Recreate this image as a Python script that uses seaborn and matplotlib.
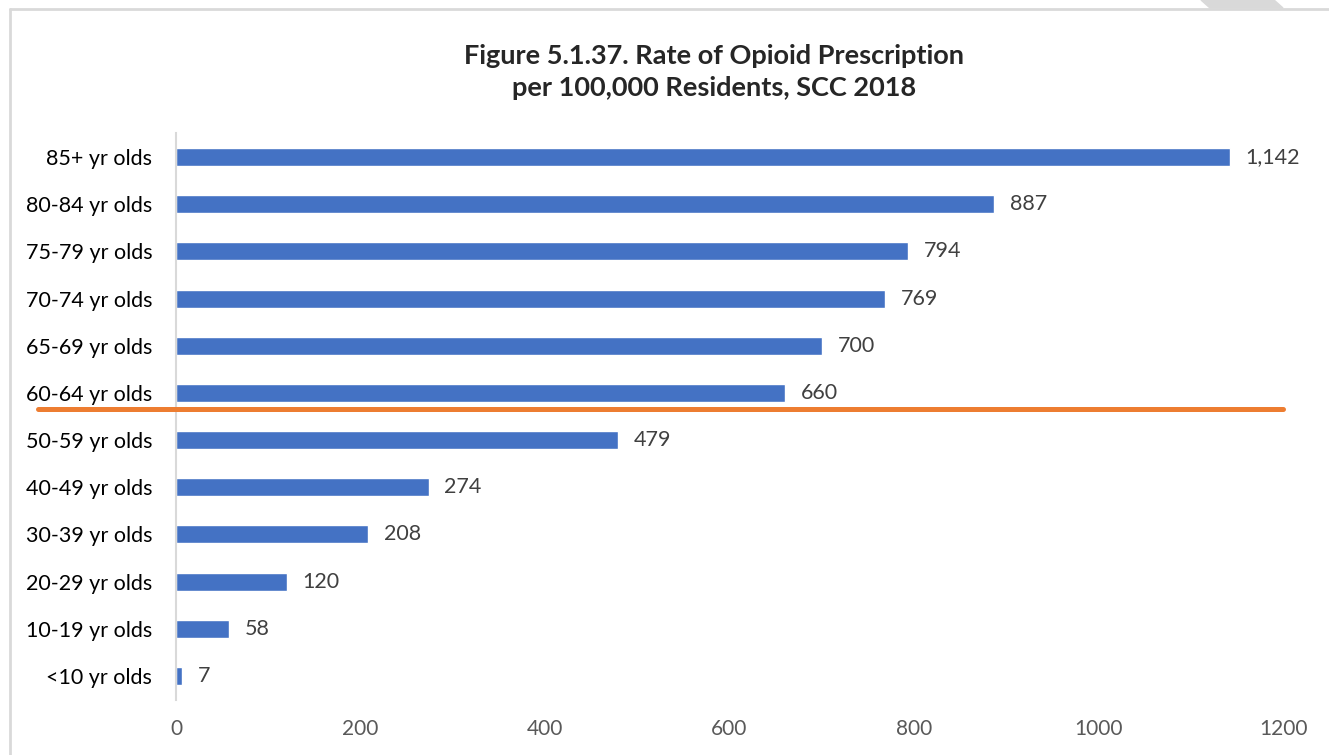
import matplotlib
matplotlib.use("Agg")
import matplotlib.pyplot as plt
import seaborn as sns
import pandas as pd
from matplotlib.lines import Line2D
from matplotlib.patches import Polygon

# Data
age_groups = ["85+ yr olds", "80-84 yr olds", "75-79 yr olds", "70-74 yr olds",
              "65-69 yr olds", "60-64 yr olds", "50-59 yr olds", "40-49 yr olds",
              "30-39 yr olds", "20-29 yr olds", "10-19 yr olds", "<10 yr olds"]
rates = [1142, 887, 794, 769, 700, 660, 479, 274, 208, 120, 58, 7]
x_ticks = [0, 200, 400, 600, 800, 1000, 1200]

df = pd.DataFrame({"group": age_groups, "rate": rates})

sns.set_style("white")
plt.rcParams["font.family"] = ["Lato", "DejaVu Sans"]

fig = plt.figure(figsize=(13.29, 7.55), dpi=100)
ax = fig.add_axes([0.1324, 0.0734, 0.8330, 0.7499])

sns.barplot(data=df, x="rate", y="group", color="#4472C4", width=0.38,
            saturation=1, ax=ax)

# value labels
for i, v in enumerate(rates):
    ax.text(v + 17, i, f"{v:,}", va="center", ha="left", fontsize=15.5, color="#404040")

ax.set_xlim(0, 1200)
ax.set_ylim(11.5, -0.5)
ax.set_xticks(x_ticks)
ax.set_xticklabels([str(t) for t in x_ticks], fontsize=15, color="#595959")
ax.tick_params(axis="x", length=0, pad=14)
ax.tick_params(axis="y", length=0, pad=17, labelsize=15.5, labelcolor="#000000")
ax.set_xlabel("")
ax.set_ylabel("")
for s in ["top", "right", "bottom"]:
    ax.spines[s].set_visible(False)
ax.spines["left"].set_color("#D9D9D9")
ax.spines["left"].set_linewidth(1.5)

fig.text(0.537, 0.904, "Figure 5.1.37. Rate of Opioid Prescription\nper 100,000 Residents, SCC 2018",
         ha="center", va="center", fontsize=19.5, fontweight="bold", linespacing=1.4)

# orange separator line between 60-64 and 50-59
fig.add_artist(Line2D([38 / 1329, 1283 / 1329], [1 - 409 / 755, 1 - 409 / 755],
                      color="#ED7D31", linewidth=3.6, transform=fig.transFigure))

# chart frame (top and left edges visible)
fig.add_artist(Line2D([9.5 / 1329, 1], [1 - 9 / 755, 1 - 9 / 755],
                      color="#D9D9D9", linewidth=2, transform=fig.transFigure))
fig.add_artist(Line2D([9.5 / 1329, 9.5 / 1329], [0, 1 - 9 / 755],
                      color="#D9D9D9", linewidth=2, transform=fig.transFigure))
fig.add_artist(Polygon([[1201 / 1329, 1], [1274 / 1329, 1], [1283 / 1329, 1 - 8 / 755],
                        [1210 / 1329, 1 - 8 / 755]], closed=True, color="#D9D9D9",
                       transform=fig.transFigure))

fig.savefig("out.png", dpi=100, facecolor="white")
